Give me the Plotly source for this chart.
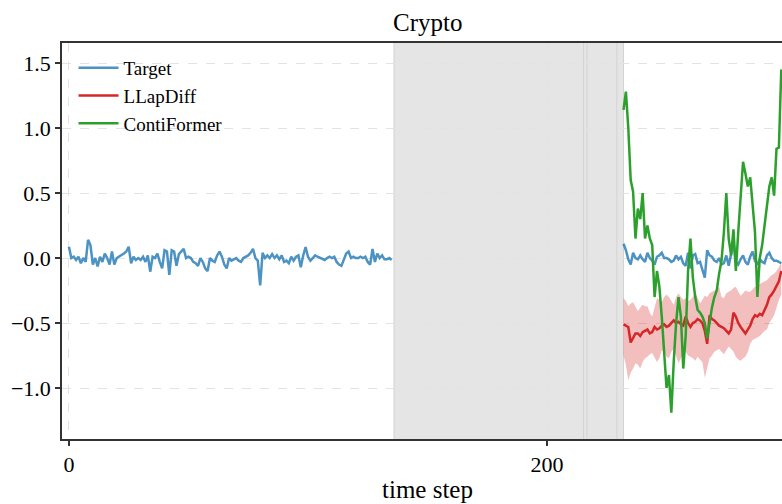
import plotly.graph_objects as go

# ---------------- data ----------------
hist_start = 0
target_hist = [
    0.087, 0.0, 0.01, -0.015, 0.01, -0.04, 0.0, -0.03, 0.14, 0.10,
    -0.05, 0.0, -0.065, 0.01, -0.03, 0.035, 0.0, -0.05, 0.05, -0.05,
    0.0, 0.01, 0.02, 0.035, 0.05, 0.087, -0.04, 0.01, -0.015, 0.0,
    -0.015, 0.01, -0.03, 0.02, -0.105, 0.01, 0.0, 0.035, -0.03, -0.08,
    0.06, 0.05, -0.13, 0.06, 0.05, -0.06, 0.03, 0.05, 0.07, 0.0,
    0.01, 0.0, -0.03, -0.04, -0.06, 0.0, -0.03, -0.08, -0.10, 0.0,
    -0.02, -0.03, 0.02, 0.05, 0.01, -0.05, -0.08, 0.0, -0.02, -0.01,
    0.0, -0.02, -0.03, 0.0, 0.01, 0.02, 0.04, 0.07, 0.0, -0.02,
    -0.21, 0.04, 0.0, 0.02, 0.0, 0.03, 0.0, 0.02, -0.01, 0.02,
    -0.03, -0.02, -0.04, 0.01, -0.02, 0.01, 0.02, -0.07, 0.02, 0.085,
    0.01, -0.02, 0.0, 0.02, 0.01, 0.0, -0.01, -0.015, 0.0, 0.01,
    0.0, 0.01, -0.03, -0.05, -0.06, -0.01, 0.035, 0.05, 0.0, 0.01,
    0.0, 0.0, 0.01, 0.0, 0.01, -0.03, -0.05, 0.07, -0.03, 0.035,
    0.0, 0.02, -0.01, -0.01, 0.0, -0.015,
]

pred_start = 232
target_future = [
    0.11, 0.06, -0.01, -0.05, 0.04, 0.0, -0.01, 0.02, -0.01, -0.03,
    0.04, 0.0, -0.02, -0.05, 0.01, 0.02, 0.04, 0.0, 0.0, -0.01,
    -0.03, -0.02, 0.02, -0.01, 0.01, -0.04, -0.06, 0.04, -0.08, 0.02,
    0.03, -0.04, -0.03, -0.09, -0.15, 0.06, 0.02, 0.01, -0.02, -0.03,
    0.0, -0.05, -0.04, 0.02, -0.06, 0.03, 0.12, -0.03, -0.05, -0.01,
    0.02, -0.03, -0.05, 0.01, 0.05, -0.02, -0.05, -0.01, -0.03, -0.04,
    0.02, 0.04, 0.0, -0.02, -0.02, -0.03, -0.04,
]
llapdiff_mean = [
    -0.51, -0.52, -0.53, -0.65, -0.62, -0.58, -0.58, -0.60, -0.57, -0.56,
    -0.55, -0.58, -0.57, -0.53, -0.55, -0.54, -0.52, -0.51, -0.53, -0.52,
    -0.50, -0.48, -0.50, -0.49, -0.51, -0.52, -0.45, -0.50, -0.53, -0.50,
    -0.49, -0.47, -0.48, -0.50, -0.56, -0.66, -0.44, -0.47, -0.48, -0.50,
    -0.52, -0.53, -0.54, -0.56, -0.58, -0.55, -0.42, -0.45, -0.50, -0.53,
    -0.56, -0.58, -0.55, -0.52, -0.47, -0.44, -0.45, -0.43, -0.44, -0.40,
    -0.36, -0.30, -0.28, -0.25, -0.22, -0.18, -0.10,
]
llapdiff_upper = [
    -0.31, -0.33, -0.37, -0.35, -0.34, -0.38, -0.41, -0.38, -0.36, -0.37,
    -0.37, -0.42, -0.45, -0.38, -0.31, -0.32, -0.34, -0.30, -0.28, -0.30,
    -0.33, -0.36, -0.30, -0.27, -0.30, -0.32, -0.31, -0.33, -0.32, -0.30,
    -0.26, -0.30, -0.35, -0.32, -0.29, -0.30, -0.27, -0.26, -0.25, -0.24,
    -0.22, -0.30, -0.31, -0.27, -0.26, -0.25, -0.23, -0.22, -0.26, -0.29,
    -0.27, -0.25, -0.26, -0.26, -0.24, -0.22, -0.21, -0.20, -0.19, -0.18,
    -0.17, -0.15, -0.13, -0.12, -0.10, -0.07, -0.03,
]
llapdiff_lower = [
    -0.75, -0.82, -0.94, -0.88, -0.85, -0.81, -0.82, -0.85, -0.80, -0.77,
    -0.76, -0.74, -0.73, -0.76, -0.80, -0.77, -0.71, -0.72, -0.76, -0.77,
    -0.72, -0.70, -0.76, -0.81, -0.77, -0.73, -0.72, -0.75, -0.76, -0.77,
    -0.79, -0.76, -0.78, -0.80, -0.92, -0.85, -0.77, -0.75, -0.72, -0.71,
    -0.70, -0.72, -0.74, -0.71, -0.68, -0.70, -0.72, -0.76, -0.78, -0.79,
    -0.77, -0.76, -0.72, -0.66, -0.63, -0.62, -0.61, -0.60, -0.58, -0.56,
    -0.55, -0.50, -0.47, -0.44, -0.38, -0.32, -0.28,
]
contiformer = [
    1.14, 1.28, 1.00, 0.60, 0.51, 0.15, 0.38, 0.30, 0.50, 0.15,
    0.25, 0.15, 0.10, -0.30, -0.10, -0.22, -0.45, -0.70, -1.00, -0.90,
    -1.19, -0.80, -0.50, -0.30, -0.45, -0.85, -0.60, -0.10, 0.15, -0.15,
    -0.30, -0.40, -0.42, -0.45, -0.50, -0.62, -0.49, -0.38, -0.30, -0.25,
    -0.12, -0.02, 0.20, 0.50, 0.15, 0.02, 0.22, -0.10, 0.20, 0.45,
    0.74, 0.65, 0.55, 0.62, 0.42, 0.20, -0.30, 0.00, 0.10, 0.25,
    0.40, 0.55, 0.62, 0.48, 0.84, 0.85, 1.45,
]

# shaded (gray) spans and their edges
span_start = 136
span_end = 232
span_edges = [136, 215.3, 216.7, 229.2, 232]

x_ticks = [0, 200]
y_ticks = [-1.0, -0.5, 0.0, 0.5, 1.0, 1.5]

# ---------------- figure ----------------
hist_x = list(range(hist_start, hist_start + len(target_hist)))
pred_x = list(range(pred_start, pred_start + len(target_future)))

FONT = "Liberation Serif, Times New Roman, serif"
BLUE = "rgba(31,119,180,0.8)"
RED = "#d62728"
GREEN = "#2ca02c"
LW = 2.5

fig = go.Figure()

# band
fig.add_trace(go.Scatter(x=pred_x, y=llapdiff_upper, mode="lines",
                         line=dict(width=0), showlegend=False, hoverinfo="skip"))
fig.add_trace(go.Scatter(x=pred_x, y=llapdiff_lower, mode="lines",
                         line=dict(width=0), fill="tonexty",
                         fillcolor="rgba(214,39,40,0.3)", showlegend=False,
                         hoverinfo="skip"))

fig.add_trace(go.Scatter(x=hist_x, y=target_hist, mode="lines", name="Target",
                         line=dict(color=BLUE, width=LW)))
fig.add_trace(go.Scatter(x=pred_x, y=target_future, mode="lines", name="Target",
                         line=dict(color=BLUE, width=LW), showlegend=False))
fig.add_trace(go.Scatter(x=pred_x, y=llapdiff_mean, mode="lines", name="LLapDiff",
                         line=dict(color=RED, width=LW)))
fig.add_trace(go.Scatter(x=pred_x, y=contiformer, mode="lines", name="ContiFormer",
                         line=dict(color=GREEN, width=LW)))

shapes = [dict(type="rect", xref="x", yref="paper", x0=span_start, x1=span_end,
               y0=0, y1=1, fillcolor="#e5e5e5", line=dict(width=0), layer="below")]
for e in span_edges:
    shapes.append(dict(type="line", xref="x", yref="paper", x0=e, x1=e, y0=0, y1=1,
                       line=dict(color="#d3d3d3", width=1), layer="below"))

FIG_W, FIG_H = 782, 504
PLOT_TOP, PLOT_BOTTOM, PLOT_LEFT = 43, 439, 62
PLOT_H = PLOT_BOTTOM - PLOT_TOP


def py_to_paper(py):
    return (PLOT_BOTTOM - py) / PLOT_H


fig.update_layout(
    width=FIG_W, height=FIG_H,
    margin=dict(l=PLOT_LEFT, r=0, t=PLOT_TOP, b=FIG_H - PLOT_BOTTOM, autoexpand=False),
    paper_bgcolor="white", plot_bgcolor="white",
    font=dict(family=FONT, color="black", size=22),
    shapes=shapes,
    showlegend=True,
    legend=dict(x=0.016, y=0.985, xanchor="left", yanchor="top",
                bgcolor="rgba(0,0,0,0)", font=dict(family=FONT, size=19),
                tracegroupgap=0, itemwidth=40, traceorder="normal"),
    annotations=[
        dict(text="Crypto", xref="paper", yref="paper", x=0.507, y=py_to_paper(23),
             xanchor="center", yanchor="middle", showarrow=False,
             font=dict(family=FONT, size=25, color="black")),
        dict(text="time step", xref="paper", yref="paper", x=0.507, y=py_to_paper(489),
             xanchor="center", yanchor="middle", showarrow=False,
             font=dict(family=FONT, size=25, color="black")),
    ],
)

fig.update_xaxes(
    range=[-2.9, 298.3], tickvals=x_ticks, ticktext=[str(v) for v in x_ticks],
    showline=True, linecolor="#333333", linewidth=1.5, mirror=True,
    ticks="outside", ticklen=5, tickcolor="#333333", tickwidth=1.5,
    showgrid=True, gridcolor="#e3e3e3", griddash="dash", gridwidth=1,
    zeroline=False, tickfont=dict(size=22), automargin=False,
)
fig.update_yaxes(
    range=[-1.392, 1.654], tickvals=y_ticks,
    ticktext=[("\u2212" if v < 0 else "") + f"{abs(v):.1f}" for v in y_ticks],
    showline=True, linecolor="#333333", linewidth=1.5,
    ticks="outside", ticklen=5, tickcolor="#333333", tickwidth=1.5,
    showgrid=True, gridcolor="#e3e3e3", griddash="dash", gridwidth=1,
    zeroline=False, tickfont=dict(size=22), automargin=False,
)

# remove the default 8px page margin so the figure fills the window exactly
fig.write_html(
    "out.html",
    config={"displayModeBar": False},
    post_script="document.body.style.margin='0';document.body.style.overflow='hidden';",
)
